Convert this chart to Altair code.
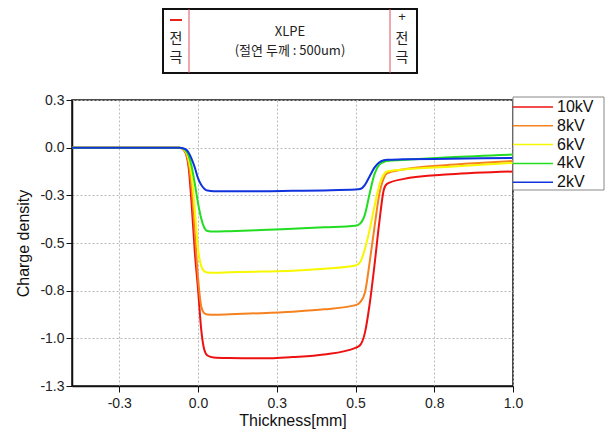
import altair as alt
import pandas as pd

series_names = ["10kV", "8kV", "6kV", "4kV", "2kV"]
series_colors = ["#ee1111", "#f5821f", "#f7f700", "#22dd22", "#1133dd"]

x_vals = [-0.4, -0.06, -0.05, -0.04, -0.03, -0.02, -0.01, 0.0, 0.01, 0.02, 0.03, 0.05,
          0.1, 0.2, 0.3, 0.4, 0.5, 0.515, 0.53, 0.545, 0.56, 0.575, 0.59, 0.6, 0.65, 0.8, 1.0]

y_10kV = [0, 0, -0.005, -0.025, -0.1, -0.3, -0.55, -0.74, -0.95, -1.06, -1.09, -1.1,
          -1.103, -1.105, -1.098, -1.085, -1.05, -1.035, -0.97, -0.82, -0.62, -0.4, -0.22, -0.19, -0.165, -0.14, -0.125]
y_8kV = [0, 0, -0.005, -0.022, -0.08, -0.22, -0.45, -0.68, -0.83, -0.868, -0.875, -0.876,
         -0.874, -0.868, -0.86, -0.848, -0.826, -0.81, -0.76, -0.6, -0.42, -0.25, -0.16, -0.135, -0.115, -0.09, -0.07]
y_6kV = [0, 0, -0.004, -0.018, -0.06, -0.15, -0.33, -0.53, -0.62, -0.648, -0.655, -0.656,
         -0.654, -0.65, -0.645, -0.635, -0.618, -0.6, -0.53, -0.43, -0.31, -0.2, -0.14, -0.125, -0.115, -0.1, -0.08]
y_4kV = [0, 0, -0.003, -0.012, -0.04, -0.1, -0.19, -0.29, -0.37, -0.42, -0.437, -0.44,
         -0.438, -0.432, -0.425, -0.418, -0.41, -0.398, -0.35, -0.24, -0.14, -0.09, -0.075, -0.07, -0.065, -0.05, -0.036]
y_2kV = [0, 0, -0.002, -0.008, -0.025, -0.06, -0.105, -0.16, -0.195, -0.215, -0.225, -0.228,
         -0.228, -0.228, -0.226, -0.224, -0.22, -0.217, -0.195, -0.15, -0.105, -0.078, -0.066, -0.063, -0.061, -0.058, -0.054]

series_values = [y_10kV, y_8kV, y_6kV, y_4kV, y_2kV]

x_ticks = [-0.25, 0.0, 0.25, 0.5, 0.75, 1.0]
y_ticks = [-1.25, -1.0, -0.75, -0.5, -0.25, 0.0, 0.25]

rows = []
for name, ys in zip(series_names, series_values):
    for xv, yv in zip(x_vals, ys):
        rows.append({"x": xv, "y": yv, "series": name})
df = pd.DataFrame(rows)

FONT = "Liberation Sans"
KFONT = "Noto Sans CJK KR"
label_expr = "replace(format(datum.value, '.1f'), '\u2212', '-')"

lines = alt.Chart(df).mark_line(strokeWidth=2, interpolate="monotone").encode(
    x=alt.X("x:Q", title="Thickness[mm]",
            scale=alt.Scale(domain=[-0.4, 1.0], nice=False, zero=False),
            axis=alt.Axis(values=x_ticks, labelExpr=label_expr, titlePadding=2, labelPadding=4,
                          labelFlush=False)),
    y=alt.Y("y:Q", title="Charge density",
            scale=alt.Scale(domain=[-1.25, 0.25], nice=False, zero=False),
            axis=alt.Axis(values=y_ticks, labelExpr=label_expr, titlePadding=8, labelFlush=False)),
    color=alt.Color("series:N", scale=alt.Scale(domain=series_names, range=series_colors), legend=None),
    detail="series:N",
)

one = pd.DataFrame({"a": [0]})

def rect(x1, x2, y1, y2, stroke, sw, fill="transparent"):
    return alt.Chart(one).mark_rect(fill=fill, stroke=stroke, strokeWidth=sw).encode(
        x=alt.value(x1), x2=alt.value(x2), y=alt.value(y1), y2=alt.value(y2))

def vline(x, y1, y2, color, sw):
    return alt.Chart(one).mark_rule(color=color, strokeWidth=sw).encode(
        x=alt.value(x), y=alt.value(y1), y2=alt.value(y2))

def hline(x1, x2, y, color, sw):
    return alt.Chart(one).mark_rule(color=color, strokeWidth=sw).encode(
        x=alt.value(x1), x2=alt.value(x2), y=alt.value(y))

def txt(s, x, y, size, font=FONT, align="center", color="#222222"):
    return alt.Chart(one).mark_text(text=s, font=font, fontSize=size, align=align,
                                    baseline="middle", color=color).encode(
        x=alt.value(x), y=alt.value(y))

# top diagram
diagram = [
    rect(91, 345, -91, -27, "#111111", 2, fill="white"),
    vline(117, -91, -27, "#e05060", 1),
    vline(318, -91, -27, "#e05060", 1),
    txt("XLPE", 218, -68, 13, font=KFONT),
    txt("(절연 두께 : 500um)", 218, -49, 13, font=KFONT),
    hline(98, 110, -80, "#e8201a", 2),
    txt("전", 104, -61, 14, font=KFONT),
    txt("극", 104, -42, 14, font=KFONT),
    txt("+", 330, -83, 13),
    txt("전", 330, -61, 14, font=KFONT),
    txt("극", 330, -42, 14, font=KFONT),
]

# legend
legend_layers = [rect(441, 532, -3, 90, "#888888", 1, fill="white")]
for i, (name, col) in enumerate(zip(series_names, series_colors)):
    yy = 7 + i * 18.8
    legend_layers.append(hline(441, 481, yy, col, 1.5))
    legend_layers.append(txt(name, 485, yy, 16, align="left", color="#111111"))

chart = alt.layer(lines, *diagram, *legend_layers).properties(
    width=441, height=286,
    autosize=alt.AutoSizeParams(type="none"),
    padding={"left": 64, "top": 92, "right": 92, "bottom": 43},
).configure_view(
    stroke="#111111", strokeWidth=1.5
).configure_axis(
    labelFont=FONT, titleFont=FONT, labelFontSize=14, titleFontSize=16,
    titleFontWeight="normal", labelColor="#222222", titleColor="#111111",
    domainColor="#111111", domainWidth=1.5, tickColor="#111111", tickSize=6,
    gridColor="#bbbbbb", gridDash=[2, 2], gridWidth=1,
)

chart.save("out.html", embed_options={"renderer": "svg", "actions": False})
